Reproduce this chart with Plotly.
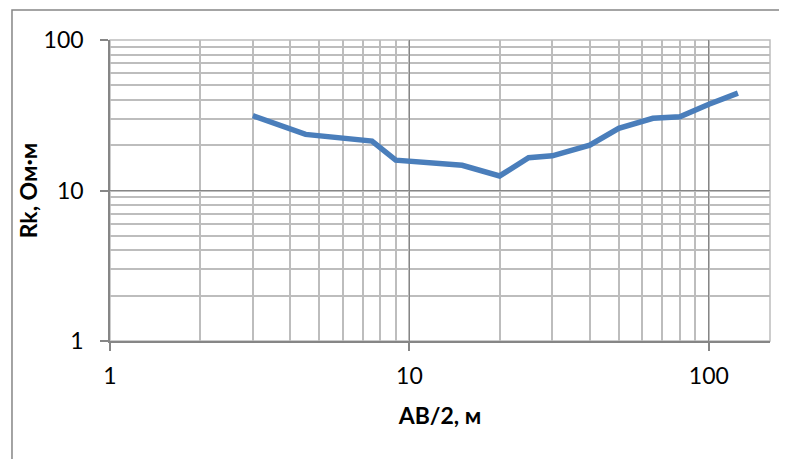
import math
import plotly.graph_objects as go

# Data (AB/2 in metres, apparent resistivity in Ohm*m)
ab2 = [3, 4.5, 7.5, 9, 15, 20, 25, 30, 40, 50, 65, 80, 100, 125]
rk = [31.4, 23.6, 21.3, 15.9, 14.7, 12.5, 16.5, 17.0, 20.0, 25.9, 30.2, 30.9, 37.4, 44.4]

x_ticks = [1, 10, 100]
x_tick_labels = ["1", "10", "100"]
y_ticks = [1, 10, 100]
y_tick_labels = ["1", "10", "100"]

x_title = "AB/2, м"
y_title = "Rk, Ом·м"

FONT = "Lato, Carlito, Calibri, sans-serif"
MAJOR = "#868686"
MINOR = "#BDBDBD"
FS = 23

fig = go.Figure()
fig.add_trace(go.Scatter(
    x=ab2, y=rk, mode="lines",
    line=dict(color="#4A7EBB", width=5.5, shape="linear"),
    hoverinfo="x+y", showlegend=False,
))

common = dict(
    type="log",
    automargin=False,
    showgrid=True, gridcolor=MAJOR, gridwidth=1.2,
    showline=True, linecolor=MAJOR, linewidth=1.5,
    ticks="outside", ticklen=8, tickcolor=MAJOR, tickwidth=1.5,
    zeroline=False,
    tickfont=dict(family=FONT, size=FS, color="#000000"),
    minor=dict(dtick="D1", showgrid=True, gridcolor=MINOR, gridwidth=1.5, ticks=""),
)

fig.update_xaxes(
    **common,
    range=[0, math.log10(160)],
    tickvals=x_ticks, ticktext=x_tick_labels,
    ticklabelstandoff=6,
    title=dict(text="<b>" + x_title + "</b>", font=dict(family=FONT, size=FS, color="#000000"), standoff=20),
)
fig.update_yaxes(
    **common,
    range=[0, 2],
    tickvals=y_ticks, ticktext=y_tick_labels,
    ticklabelstandoff=12,
    title=dict(text="<b>" + y_title + "</b>", font=dict(family=FONT, size=FS, color="#000000"), standoff=0),
)

# plot-area border (light) and outer chart border
fig.add_shape(type="rect", xref="paper", yref="paper", x0=0, y0=0, x1=1, y1=1,
              line=dict(color=MINOR, width=1.5), layer="below")
fig.add_shape(type="rect", xref="paper", yref="paper", x0=-0.1485, y0=-0.6, x1=1.2, y1=1.0997,
              line=dict(color=MAJOR, width=1.5), layer="below")

# page body adds an 8px offset, so margins are reduced by 8 on the left/top
fig.update_layout(
    width=787, height=459,
    margin=dict(l=102, r=25, t=32, b=126),
    paper_bgcolor="white", plot_bgcolor="white",
    font=dict(family=FONT, size=FS, color="#000000"),
)

fig.write_html("out.html")
